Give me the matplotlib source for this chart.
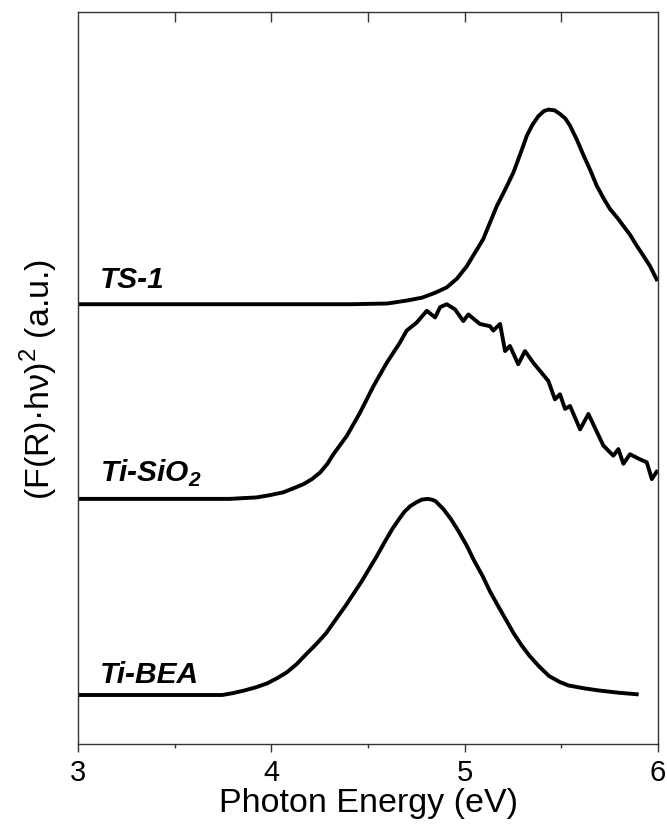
import numpy as np
import matplotlib
matplotlib.use("Agg")
import matplotlib.pyplot as plt

plt.rcParams['font.family'] = ['Liberation Sans', 'DejaVu Sans']

# photon energy (eV) and stacked (F(R)*hv)^2 signal, a.u. (offset already included)
ts1_x = [3.0, 4.407, 4.60, 4.70, 4.78, 4.85, 4.907, 4.96, 5.011, 5.05, 5.096, 5.13,
         5.166, 5.21, 5.252, 5.29, 5.321, 5.35, 5.381, 5.41, 5.433, 5.465, 5.493,
         5.52, 5.545, 5.58, 5.614, 5.65, 5.683, 5.72, 5.752, 5.79, 5.821, 5.855,
         5.890, 5.925, 5.959, 5.993]
ts1_y = [60.1, 60.1, 60.2, 60.6, 61.0, 61.7, 62.4, 63.6, 65.3, 67.0, 69.0, 71.2,
         73.5, 75.8, 78.1, 80.8, 83.1, 84.6, 85.8, 86.5, 86.7, 86.6, 86.1,
         85.5, 84.5, 82.6, 80.5, 78.4, 76.3, 74.5, 73.1, 71.9, 70.8, 69.6,
         68.1, 66.7, 65.3, 63.5]

tisio2_x = [3.0, 3.786, 3.85, 3.924, 3.99, 4.062, 4.11, 4.165, 4.21, 4.252, 4.29,
            4.321, 4.390, 4.459, 4.528, 4.597, 4.666, 4.700, 4.752, 4.804, 4.847,
            4.873, 4.907, 4.950, 4.993, 5.019, 5.079, 5.131, 5.148, 5.183, 5.209,
            5.234, 5.277, 5.312, 5.355, 5.433, 5.467, 5.493, 5.519, 5.545, 5.597,
            5.640, 5.717, 5.769, 5.795, 5.821, 5.855, 5.907, 5.942, 5.968, 5.993]
tisio2_y = [33.5, 33.5, 33.6, 33.7, 34.0, 34.4, 34.9, 35.5, 36.2, 37.1, 38.3,
            39.6, 42.1, 45.3, 48.9, 52.1, 54.9, 56.5, 57.6, 59.2, 58.3,
            59.7, 60.1, 59.4, 57.8, 58.7, 57.4, 57.1, 56.5, 57.4, 53.7,
            54.4, 51.9, 53.7, 52.1, 49.6, 47.1, 47.8, 45.8, 46.2, 43.0,
            45.1, 40.8, 39.4, 40.3, 38.3, 39.6, 38.9, 38.5, 36.2, 37.2]

tibea_x = [3.0, 3.746, 3.80, 3.858, 3.92, 3.979, 4.03, 4.080, 4.13, 4.181, 4.23,
           4.282, 4.33, 4.384, 4.424, 4.464, 4.505, 4.546, 4.586, 4.626, 4.657,
           4.687, 4.718, 4.748, 4.778, 4.808, 4.83, 4.849, 4.89, 4.930, 4.97,
           5.011, 5.05, 5.092, 5.13, 5.172, 5.213, 5.254, 5.294, 5.334, 5.385,
           5.436, 5.49, 5.537, 5.62, 5.699, 5.80, 5.890]
tibea_y = [6.7, 6.7, 6.95, 7.3, 7.75, 8.3, 9.0, 9.8, 10.9, 12.3, 13.6,
           15.1, 16.9, 18.9, 20.5, 22.1, 23.9, 25.7, 27.6, 29.4, 30.6,
           31.7, 32.5, 33.0, 33.4, 33.5, 33.4, 33.2, 32.1, 30.7, 29.0,
           27.1, 25.0, 23.0, 20.9, 18.9, 17.0, 15.1, 13.5, 12.1, 10.6,
           9.3, 8.5, 8.0, 7.6, 7.3, 7.0, 6.8]

labels = ['TS-1', 'Ti-SiO$_{\\mathdefault{2}}$', 'Ti-BEA']
label_y = [62.4, 35.9, 8.5]

fig = plt.figure(figsize=(6.67, 8.29), dpi=100)
ax = fig.add_axes([0.117, 0.1013, 0.8695, 0.8827])

for xs, ys in [(ts1_x, ts1_y), (tisio2_x, tisio2_y), (tibea_x, tibea_y)]:
    ax.plot(xs, ys, color='black', lw=2.8, solid_joinstyle='round')

for lab, yy in zip(labels, label_y):
    ax.text(3.115, yy, lab, fontsize=21.5, fontweight='bold', fontstyle='italic',
            va='baseline', ha='left')

ax.set_xlim(3, 6)
ax.set_ylim(0, 100)
ax.set_xticks([3, 4, 5, 6])
ax.set_xticks([3.5, 4.5, 5.5], minor=True)
ax.set_yticks([])
ax.tick_params(axis='x', which='major', direction='out', length=6, width=1,
               labelsize=21, pad=4, color='#333333')
ax.tick_params(axis='x', which='minor', direction='out', length=3, width=1,
               color='#333333')

top = ax.secondary_xaxis('top')
top.set_xticks([3.5, 4, 4.5, 5, 5.5])
top.tick_params(direction='in', length=7, width=1, labeltop=False, color='#333333')
top.spines['top'].set_visible(False)

for s in ax.spines.values():
    s.set_color('#333333')
    s.set_linewidth(1.0)

ax.set_xlabel('Photon Energy (eV)', fontsize=24.5, labelpad=1)
ax.set_ylabel('(F(R)·hν)$^{\\mathdefault{2}}$ (a.u.)', fontsize=24.5, labelpad=13)

fig.savefig('out.png', dpi=100)
